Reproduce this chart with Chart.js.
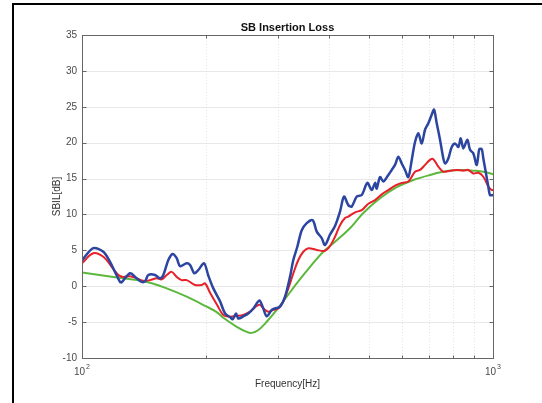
<!DOCTYPE html>
<html>
<head>
<meta charset="utf-8">
<script src="https://cdn.jsdelivr.net/npm/chart.js@4/dist/chart.umd.min.js"></script>
<style>
  html, body { margin: 0; padding: 0; background: #ffffff; }
  #wrap { position: relative; width: 542px; height: 403px; }
</style>
</head>
<body>
<div id="wrap"><canvas id="c" width="542" height="403"></canvas></div>
<script>
// Frequency axis (Hz) and insertion loss (dB) for each curve
const blueHz = [100,106.5,112.7,117.0,120.3,123.7,124.9,130.9,135.9,139.7,142.4,145.0,150.6,154.8,157.7,162.2,166.2,170.0,173.2,179.8,183.2,187.6,191.9,198.1,202.9,208.7,216.7,222.9,229.2,232.7,237.0,240.1,246.9,253.9,261.1,270.1,275.3,281.5,289.5,294.9,303.3,311.9,320.7,326.7,334.1,342.5,352.2,364.2,372.5,383.1,390.2,401.3,412.7,424.4,434.0,444.6,453.2,466.1,479.3,494.6,506.9,516.4,521.3,531.0,541.0,556.3,567.0,577.6,588.4,599.7,610.9,622.3,634.3,646.1,658.1,670.8,683.3,696.1,709.4,718.7,729.6,743.2,757.1,764.4,778.6,793.6,808.4,823.5,834.7,846.9,866.1,879.3,895.7,912.9,926.3,938.9,947.3,961.6,974.0,983.3,1000];
const blueDb = [3.6,5.3,4.8,3.4,2.0,0.6,0.55,1.8,1.1,0.6,0.7,1.56,1.56,1.1,1.56,3.65,4.5,3.9,2.8,3.2,2.95,1.8,2.26,3.2,1.5,-0.3,-2.1,-3.8,-4.3,-4.6,-3.8,-4.5,-4.2,-3.8,-3.1,-2.0,-2.9,-4.2,-3.3,-3.1,-2.85,-1.46,1.3,3.65,5.5,7.8,8.8,9.2,7.6,6.7,5.74,7.2,8.4,10.4,12.5,11.3,11.1,12.5,12.7,14.4,13.4,14.4,13.6,15.2,14.6,15.5,16.2,16.9,18.05,17.1,16.2,15.2,17.6,20.1,21.3,19.9,21.8,22.7,23.9,24.6,22.7,20.4,17.8,17.1,17.8,19.4,19.9,19.4,20.6,19.2,20.4,19.0,18.5,16.9,19.1,19.1,17.8,15.7,13.9,12.7,12.7];

const redHz = [100,106.5,112.7,118.1,122.6,126.0,130.9,135.9,141.0,146.4,152.0,156.3,160.7,165.3,170.0,174.8,179.8,188.4,195.6,199.2,204.9,212.7,220.7,229.2,237.0,246.9,256.4,266.2,271.1,276.2,284.0,292.1,300.4,308.9,317.7,326.7,336.0,345.5,355.4,372.5,390.2,401.3,412.7,424.4,436.5,444.6,461.7,479.3,497.4,516.4,536.1,556.3,577.6,599.7,622.3,646.1,664.4,683.3,702.7,715.8,736.2,757.1,786.1,816.2,846.9,871.0,895.7,921.2,947.3,974.0,992.7,1000];
const redDb = [3.2,4.6,4.1,2.7,1.56,1.3,1.4,1.1,0.75,0.85,1.1,0.95,1.56,2.0,1.3,0.85,0.85,0.17,0.17,0.4,-0.9,-2.5,-4.0,-4.25,-4.15,-4.0,-3.55,-2.75,-2.6,-3.1,-3.55,-3.3,-3.1,-2.15,-0.3,1.8,3.65,4.8,5.3,5.05,4.95,5.6,6.9,8.5,9.5,9.7,10.3,10.6,11.5,12.0,12.8,13.4,14.0,14.4,14.6,15.95,16.2,16.9,17.6,17.7,16.65,15.95,16.1,16.2,16.1,16.2,15.7,15.8,15.25,13.9,13.4,13.4];

const greenHz = [100,119.2,143.7,160.7,179.8,201.1,212.7,220.7,238.0,251.6,258.8,268.6,281.5,297.7,314.9,333.0,358.8,386.5,416.7,448.8,483.6,531.0,583.1,640.0,702.7,771.7,846.9,895.7,947.3,1000];
const greenDb = [1.9,1.3,0.6,-0.3,-1.46,-2.85,-3.6,-4.4,-5.65,-6.35,-6.5,-6.1,-4.95,-3.3,-1.46,0.4,2.7,4.8,6.4,8.07,10.2,12.25,13.8,14.8,15.5,16.05,16.2,16.1,15.95,15.6];

// Axis ticks
const yTicks = [-10,-5,0,5,10,15,20,25,30,35];
const xMinorTicks = [200,300,400,500,600,700,800,900];
const xMajorTicks = [{ v: 100, exp: '2' }, { v: 1000, exp: '3' }];

const chartTitle = 'SB Insertion Loss';
const xTitle = 'Frequency[Hz]';
const yTitle = 'SBIL[dB]';

const FONT = '"Liberation Sans", Arial, Helvetica, sans-serif';

function pts(xs, ys) { return xs.map((x, i) => ({ x: x, y: ys[i] })); }

// Draws MATLAB-style axes: grid, box, inward ticks, labels, titles and frame
const matlabAxes = {
  id: 'matlabAxes',
  beforeDatasetsDraw(chart) {
    const { ctx, chartArea: a, scales: { x, y } } = chart;
    ctx.save();
    ctx.lineWidth = 1;
    ctx.strokeStyle = '#e8e8e8';
    yTicks.forEach(v => {
      if (v === -10 || v === 35) return;
      const py = Math.round(y.getPixelForValue(v)) + 0.5;
      ctx.beginPath(); ctx.moveTo(a.left, py); ctx.lineTo(a.right, py); ctx.stroke();
    });
    ctx.strokeStyle = '#e4e4e4';
    ctx.setLineDash([1, 2]);
    xMinorTicks.forEach(v => {
      const px = Math.round(x.getPixelForValue(v)) + 0.5;
      ctx.beginPath(); ctx.moveTo(px, a.top); ctx.lineTo(px, a.bottom); ctx.stroke();
    });
    ctx.restore();
  },
  afterDatasetsDraw(chart) {
    const { ctx, chartArea: a, scales: { x, y } } = chart;
    ctx.save();
    const L = Math.round(a.left) + 0.5, R = Math.round(a.right) + 0.5;
    const T = Math.round(a.top) + 0.5, B = Math.round(a.bottom) + 0.5;
    ctx.lineWidth = 1;
    ctx.strokeStyle = '#666666';
    ctx.strokeRect(L, T, R - L, B - T);

    // inward ticks
    ctx.beginPath();
    yTicks.forEach(v => {
      const py = Math.round(y.getPixelForValue(v)) + 0.5;
      ctx.moveTo(L, py); ctx.lineTo(L + 4, py);
      ctx.moveTo(R, py); ctx.lineTo(R - 4, py);
    });
    xMinorTicks.forEach(v => {
      const px = Math.round(x.getPixelForValue(v)) + 0.5;
      ctx.moveTo(px, B); ctx.lineTo(px, B - 3);
      ctx.moveTo(px, T); ctx.lineTo(px, T + 3);
    });
    ctx.stroke();

    // y tick labels
    ctx.fillStyle = '#4a4a4a';
    ctx.font = '10px ' + FONT;
    ctx.textAlign = 'right';
    ctx.textBaseline = 'middle';
    yTicks.forEach(v => {
      ctx.fillText(String(v), a.left - 5, y.getPixelForValue(v));
    });

    // x tick labels as powers of ten
    xMajorTicks.forEach(t => {
      const px = x.getPixelForValue(t.v);
      ctx.font = '10px ' + FONT;
      const wb = ctx.measureText('10').width;
      ctx.font = '7px ' + FONT;
      const we = ctx.measureText(t.exp).width;
      const x0 = px - (wb + we + 1) / 2;
      ctx.textAlign = 'left';
      ctx.textBaseline = 'alphabetic';
      ctx.font = '10px ' + FONT;
      ctx.fillText('10', x0, a.bottom + 17);
      ctx.font = '7px ' + FONT;
      ctx.fillText(t.exp, x0 + wb + 1, a.bottom + 11);
    });

    // axis titles
    const cx = (a.left + a.right) / 2;
    const cy = (a.top + a.bottom) / 2;
    ctx.font = '10px ' + FONT;
    ctx.fillStyle = '#333333';
    ctx.textAlign = 'center';
    ctx.textBaseline = 'middle';
    ctx.fillText(xTitle, cx, a.bottom + 26);
    ctx.save();
    ctx.translate(a.left - 25, cy);
    ctx.rotate(-Math.PI / 2);
    ctx.fillText(yTitle, 0, 0);
    ctx.restore();

    // chart title
    ctx.font = 'bold 11px ' + FONT;
    ctx.fillStyle = '#111111';
    ctx.textBaseline = 'alphabetic';
    ctx.fillText(chartTitle, cx, a.top - 4);

    // figure frame
    ctx.fillStyle = '#000000';
    ctx.fillRect(12, 3, 2, chart.height - 3);
    ctx.fillRect(12, 3, chart.width - 12, 2);
    ctx.restore();
  }
};

new Chart(document.getElementById('c'), {
  type: 'line',
  data: {
    datasets: [
      { data: pts(greenHz, greenDb), borderColor: '#5cb83c', borderWidth: 2, tension: 0.35, order: 3 },
      { data: pts(redHz, redDb), borderColor: '#e8202a', borderWidth: 2, tension: 0.35, order: 2 },
      { data: pts(blueHz, blueDb), borderColor: '#2b45a0', borderWidth: 2.5, tension: 0.3, order: 1 }
    ]
  },
  options: {
    responsive: false,
    animation: false,
    devicePixelRatio: 1,
    parsing: true,
    elements: { point: { radius: 0, hoverRadius: 0 } },
    layout: { padding: { left: 0, right: 49, top: 35, bottom: 45 } },
    plugins: { legend: { display: false }, title: { display: false }, tooltip: { enabled: false } },
    events: [],
    scales: {
      x: {
        type: 'logarithmic', min: 100, max: 1000,
        grid: { display: false, drawTicks: false },
        border: { display: false },
        ticks: { display: false },
        afterFit: s => { s.height = 0; }
      },
      y: {
        type: 'linear', min: -10, max: 35,
        grid: { display: false, drawTicks: false },
        border: { display: false },
        ticks: { display: false, stepSize: 5 },
        afterFit: s => { s.width = 82; }
      }
    }
  },
  plugins: [matlabAxes]
});
</script>
</body>
</html>
